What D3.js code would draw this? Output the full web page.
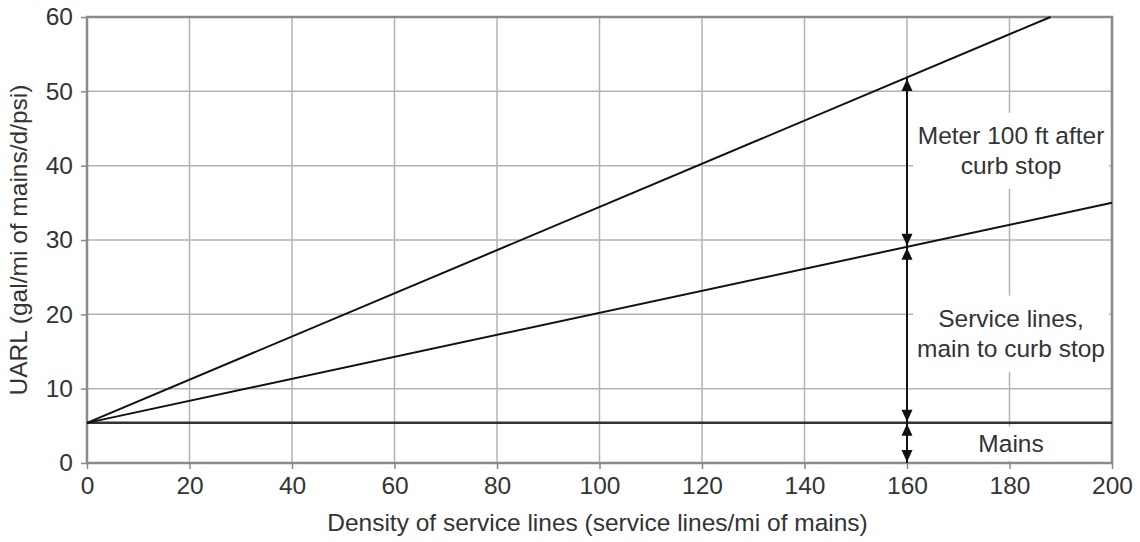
<!DOCTYPE html>
<html><head><meta charset="utf-8">
<script src="https://cdn.jsdelivr.net/npm/d3@7"></script>
<style>body{margin:0;background:#fff}</style>
</head><body><svg id="c" width="1140" height="542"></svg>
<script>
const xTicks = [0,20,40,60,80,100,120,140,160,180,200];
const yTicks = [0,10,20,30,40,50,60];
const mainsLine = [[0,5.4],[200,5.4]];
const serviceLine = [[0,5.4],[200,35]];
const meterLine = [[0,5.4],[188,60]];
const arrowX = 160;
const arrowSegments = [[0,5.4],[5.4,29.1],[29.1,51.8]];
const labels = [
  {x:180.3, y:42.0, lines:["Meter 100 ft after","curb stop"]},
  {x:180.3, y:17.4, lines:["Service lines,","main to curb stop"]},
  {x:180.3, y:2.6, lines:["Mains"]}
];
const xTitle = "Density of service lines (service lines/mi of mains)";
const yTitle = "UARL (gal/mi of mains/d/psi)";

const svg = d3.select("#c");
const L=87,R=1112,T=17,B=463;
const x = d3.scaleLinear().domain([0,200]).range([L,R]);
const y = d3.scaleLinear().domain([0,60]).range([B,T]);
const font = "Liberation Sans, Arial, sans-serif";
const txt = "#333";
const fs = 24.5;

// grid
svg.append("g").selectAll("line").data(xTicks).join("line")
  .attr("x1",d=>x(d)).attr("x2",d=>x(d)).attr("y1",T).attr("y2",B)
  .attr("stroke","#b3b3b3").attr("stroke-width",1.5);
svg.append("g").selectAll("line").data(yTicks).join("line")
  .attr("y1",d=>y(d)).attr("y2",d=>y(d)).attr("x1",L).attr("x2",R)
  .attr("stroke","#b3b3b3").attr("stroke-width",1.5);

// label backgrounds
labels.forEach(lb=>{
  const n=lb.lines.length;
  const h = n===1?34:76;
  svg.append("rect").attr("x",x(lb.x)-98).attr("width",196)
    .attr("y",y(lb.y)-h/2).attr("height",h).attr("fill","#fff");
});

// axes
const xa = svg.append("g").attr("transform",`translate(0,${B})`)
  .call(d3.axisBottom(x).tickValues(xTicks).tickSize(6).tickPadding(8).tickFormat(d3.format("d")));
const ya = svg.append("g").attr("transform",`translate(${L},0)`)
  .call(d3.axisLeft(y).tickValues(yTicks).tickSize(6).tickPadding(8).tickFormat(d3.format("d")));
[xa,ya].forEach(a=>{
  a.select(".domain").remove();
  a.selectAll("line").attr("stroke","#888").attr("stroke-width",1.5);
  a.selectAll("text").attr("font-family",font).attr("font-size",fs).attr("fill",txt);
});

// frame
svg.append("rect").attr("x",L).attr("y",T).attr("width",R-L).attr("height",B-T)
  .attr("fill","none").attr("stroke","#8a8a8a").attr("stroke-width",2.5);

// data lines
const line = d3.line().x(d=>x(d[0])).y(d=>y(d[1]));
svg.append("path").attr("d",line(mainsLine)).attr("fill","none").attr("stroke","#333").attr("stroke-width",2.5);
[serviceLine,meterLine].forEach(dat=>{
  svg.append("path").attr("d",line(dat)).attr("fill","none").attr("stroke","#111").attr("stroke-width",2);
});

// arrows
svg.append("line").attr("x1",x(arrowX)).attr("x2",x(arrowX))
  .attr("y1",y(0)).attr("y2",y(arrowSegments[2][1])).attr("stroke","#111").attr("stroke-width",2);
const head = (px,py,dir)=>{ // tip at py; dir +1 points down, -1 points up
  svg.append("path").attr("d",`M${px},${py} L${px-5.5},${py-dir*12} L${px+5.5},${py-dir*12} Z`).attr("fill","#111");
};
arrowSegments.forEach(s=>{
  head(x(arrowX), y(s[0])-1, 1);
  head(x(arrowX), y(s[1])+1, -1);
});

// label texts
labels.forEach(lb=>{
  const n=lb.lines.length, lh=30;
  lb.lines.forEach((t,i)=>{
    svg.append("text").attr("x",x(lb.x)).attr("y",y(lb.y)+(i-(n-1)/2)*lh)
      .attr("dy","0.35em").attr("text-anchor","middle").attr("font-family",font)
      .attr("font-size",fs).attr("fill",txt).text(t);
  });
});

// titles
svg.append("text").attr("x",(L+R)/2 - 2).attr("y",531).attr("text-anchor","middle")
  .attr("font-family",font).attr("font-size",fs).attr("fill",txt).text(xTitle);
svg.append("text").attr("transform",`translate(27,${240}) rotate(-90)`).attr("text-anchor","middle")
  .attr("font-family",font).attr("font-size",fs).attr("fill",txt).text(yTitle);
</script></body></html>
